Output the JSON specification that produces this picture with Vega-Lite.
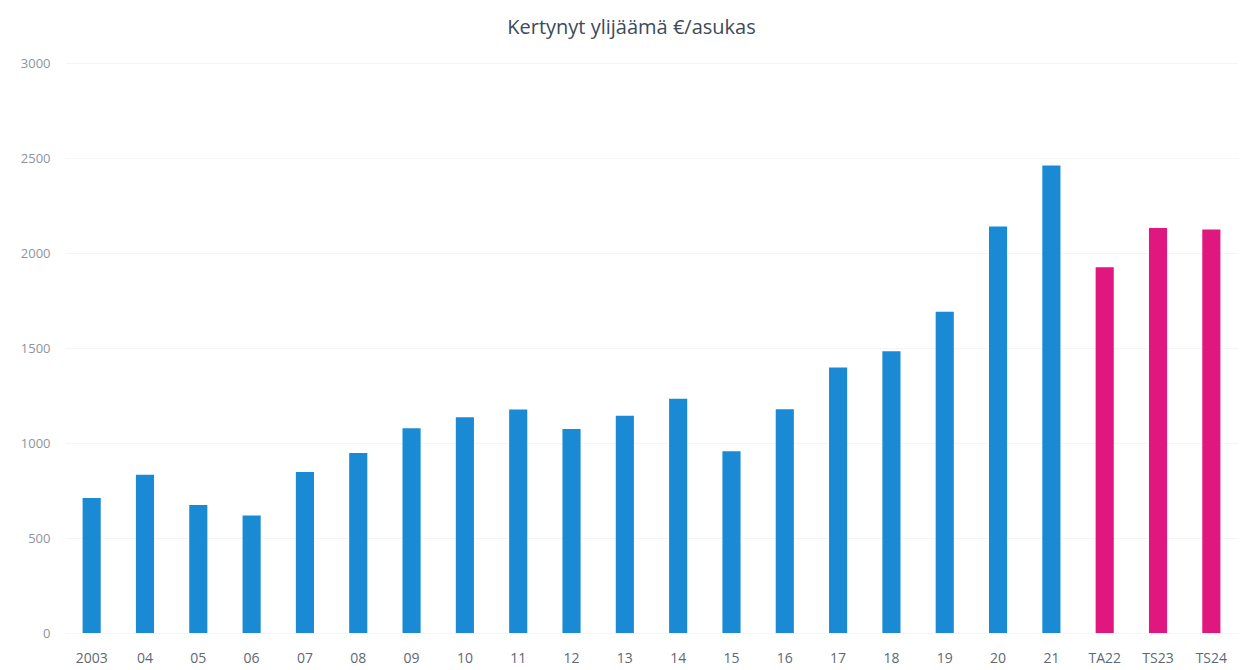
{
  "$schema": "https://vega.github.io/schema/vega-lite/v6.json",
  "autosize": {"type": "none"},
  "padding": {"left": 65, "top": 63, "right": 2, "bottom": 37},
  "width": 1173,
  "height": 570,
  "background": "white",
  "title": {
    "text": "Kertynyt ylijäämä €/asukas",
    "font": "Open Sans",
    "fontSize": 20,
    "fontWeight": "normal",
    "color": "#3d4a58",
    "anchor": "middle",
    "offset": 19,
    "dx": -20
  },
  "data": {
    "values": [
      {"label": "2003", "value": 710, "type": "toteuma"},
      {"label": "04", "value": 833, "type": "toteuma"},
      {"label": "05", "value": 674, "type": "toteuma"},
      {"label": "06", "value": 619, "type": "toteuma"},
      {"label": "07", "value": 847, "type": "toteuma"},
      {"label": "08", "value": 947, "type": "toteuma"},
      {"label": "09", "value": 1078, "type": "toteuma"},
      {"label": "10", "value": 1136, "type": "toteuma"},
      {"label": "11", "value": 1176, "type": "toteuma"},
      {"label": "12", "value": 1074, "type": "toteuma"},
      {"label": "13", "value": 1144, "type": "toteuma"},
      {"label": "14", "value": 1233, "type": "toteuma"},
      {"label": "15", "value": 956, "type": "toteuma"},
      {"label": "16", "value": 1178, "type": "toteuma"},
      {"label": "17", "value": 1397, "type": "toteuma"},
      {"label": "18", "value": 1483, "type": "toteuma"},
      {"label": "19", "value": 1691, "type": "toteuma"},
      {"label": "20", "value": 2139, "type": "toteuma"},
      {"label": "21", "value": 2461, "type": "toteuma"},
      {"label": "TA22", "value": 1925, "type": "arvio"},
      {"label": "TS23", "value": 2131, "type": "arvio"},
      {"label": "TS24", "value": 2124, "type": "arvio"}
    ]
  },
  "mark": {"type": "bar"},
  "encoding": {
    "x": {
      "field": "label",
      "type": "ordinal",
      "sort": null,
      "scale": {"paddingInner": 0.66, "paddingOuter": 0.33},
      "axis": {
        "title": null,
        "labelAngle": 0,
        "domain": false,
        "ticks": false,
        "labelPadding": 18,
        "labelFont": "Open Sans",
        "labelFontSize": 14,
        "labelColor": "#5f6873"
      }
    },
    "y": {
      "field": "value",
      "type": "quantitative",
      "scale": {"domain": [0, 3000], "nice": false},
      "axis": {
        "title": null,
        "values": [0, 500, 1000, 1500, 2000, 2500, 3000],
        "format": "d",
        "domain": false,
        "ticks": false,
        "labelPadding": 15,
        "labelFont": "Open Sans",
        "labelFontSize": 13,
        "labelColor": "#90949a",
        "grid": true,
        "gridColor": "#f5f5f5",
        "gridWidth": 1
      }
    },
    "color": {
      "field": "type",
      "type": "nominal",
      "scale": {"domain": ["toteuma", "arvio"], "range": ["#1b8ad5", "#e0177f"]},
      "legend": null
    }
  },
  "config": {"view": {"stroke": null}}
}
